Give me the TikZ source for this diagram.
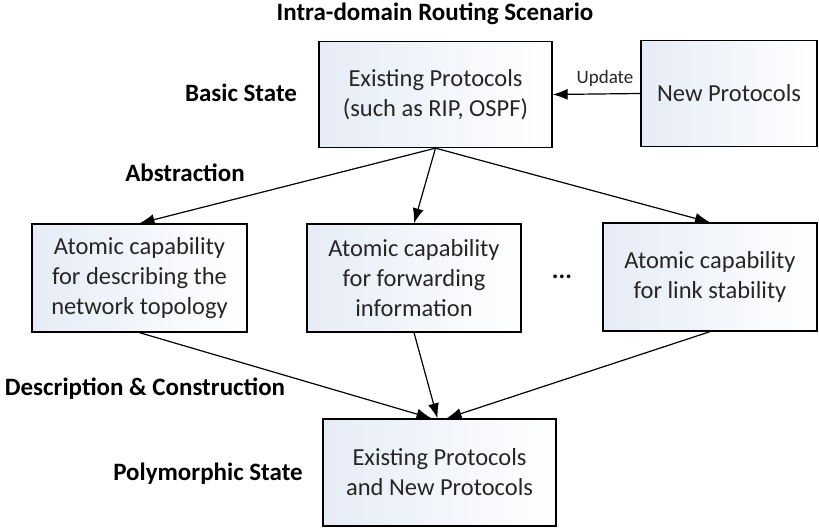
\documentclass[tikz,border=0pt]{standalone}
\usepackage{fontspec}
\setmainfont{Carlito}
\usetikzlibrary{arrows.meta,calc}
\definecolor{boxblue}{RGB}{230,236,246}
\tikzset{
  protobox/.style={draw, line width=1.3pt, left color=boxblue, right color=white,
    minimum width=#1, minimum height=106pt, inner sep=0pt, align=center,
    text=black!85, font=\fontsize{24.5}{30}\selectfont},
  phase/.style={font=\bfseries\fontsize{25}{30}\selectfont},
  link/.style={line width=1.2pt, -{Latex[length=15pt,width=11pt]}}
}

\begin{document}
\begin{tikzpicture}[x=1pt, y=-1pt]
		%%%%% START %%%%%
		\useasboundingbox (0, 0) rectangle (819, 531);
		
		\node[phase] (title) at (435, 14) {Intra-domain Routing Scenario};
		
		% basic state
		\node[protobox=233pt] (existing) at (435.5, 94.5) {Existing Protocols\\(such as RIP, OSPF)};
		\node[protobox=176pt] (newproto) at (729, 93.5) {New Protocols};
		\node[phase] (basic) at (241, 93) {Basic State};
		\draw[link] (newproto.west) -- (existing.east);
		\node[font=\fontsize{19}{23}\selectfont, text=black!85] (update) at (605, 78) {Update};
		
		% abstraction
		\node[phase] (abstr) at (185, 173) {Abstraction};
		\node[protobox=215pt, minimum height=108pt] (topo) at (139.5, 278) {Atomic capability\\for describing the\\network topology};
		\node[protobox=214pt, minimum height=108pt] (fwd) at (414, 278) {Atomic capability\\for forwarding\\information};
		\node[protobox=214pt, minimum height=108pt] (link) at (710, 277) {Atomic capability\\for link stability};
		\node[phase] (dots) at (562, 277) {...};
		
		\draw[link] (existing.south) -- (topo.north);
		\draw[link] (existing.south) -- (fwd.north);
		\draw[link] (existing.south) -- (link.north);
		
		% description & construction
		\node[phase] (descr) at (145, 389) {Description \& Construction};
		\node[protobox=233pt, minimum height=107pt] (poly) at (439.5, 472.5) {Existing Protocols\\and New Protocols};
		\node[phase] (polystate) at (208, 474) {Polymorphic State};
		
		\draw[link] (topo.south) -- ([xshift=-8pt]poly.north);
		\draw[link] (fwd.south) -- ([xshift=-2pt]poly.north);
		\draw[link] (link.south) -- ([xshift=7pt]poly.north);
		
		%%%%% END %%%%%
	\end{tikzpicture}
\end{document}
